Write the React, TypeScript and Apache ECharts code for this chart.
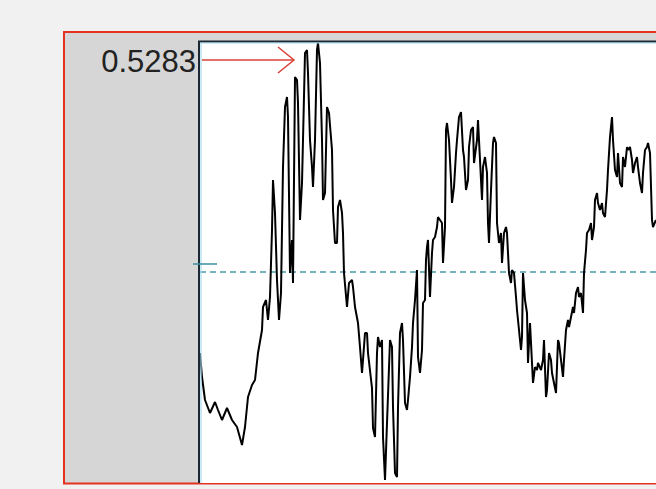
import React, { useEffect, useRef } from "react";
import * as echarts from "echarts";

// time offsets (ticks) and prices
const ticks = [
  0, 2, 5, 10, 15, 18, 22, 27, 32, 37, 42, 45, 48, 52, 55, 58, 62, 63, 66, 68, 70, 72, 73, 75, 77, 79, 81, 83, 85, 87, 88, 90, 92, 93, 95, 97, 98,
  100, 102, 105, 107, 108, 110, 112, 113, 115, 117, 118, 120, 122, 123, 125, 127, 129, 132, 133, 135, 137, 138, 140, 142, 143, 144, 147, 149,
  152, 153, 155, 158, 160, 162, 163, 165, 167, 168, 172, 173, 175, 177, 178, 180, 182, 183, 185, 187, 190, 192, 193, 195, 197, 198,
  200, 202, 203, 205, 207, 208, 210, 212, 213, 215, 217, 218, 220, 222, 223, 225, 226, 227, 228, 230, 232, 233, 235, 237, 238, 240, 242, 243, 245, 246, 247, 249,
  251, 252, 254, 256, 257, 259, 261, 263, 264, 266, 268, 269, 271, 273, 274, 277, 278, 280, 282, 283, 285, 287, 288, 289, 291, 293, 294, 296, 297, 299,
  301, 302, 304, 306, 307, 309, 311, 312, 314, 316, 317, 319, 321, 322, 323, 325, 327, 328, 330, 332, 333, 335, 337, 338, 341, 343, 344, 346, 347, 349,
  351, 352, 354, 356, 358, 359, 361, 363, 364, 366, 368, 369, 371, 373, 374, 376, 378, 379, 381, 383, 384, 386, 387, 389, 391, 392, 394, 395, 397, 398,
  400, 402, 403, 405, 407, 408, 410, 412, 413, 415, 417, 418, 420, 422, 423, 425, 427, 428, 430, 432, 433, 435, 437, 438, 440, 442, 443, 445, 447, 448,
  450, 452, 453, 456,
];

const prices = [
  0.499, 0.4966, 0.4943, 0.493, 0.4941, 0.4933, 0.4923, 0.4935, 0.4923, 0.4916, 0.4898, 0.4916, 0.4946, 0.4958, 0.4963, 0.499, 0.5013, 0.5036, 0.5043, 0.5023, 0.5046, 0.5113, 0.5163, 0.513, 0.5063, 0.5023, 0.505, 0.5176, 0.5236, 0.5246, 0.5226, 0.507, 0.5103, 0.506, 0.5266, 0.5263, 0.524,
  0.5123, 0.516, 0.529, 0.5293, 0.527, 0.5203, 0.5176, 0.5156, 0.5203, 0.5293, 0.53, 0.528, 0.5203, 0.5143, 0.515, 0.5236, 0.523, 0.5193, 0.5133, 0.51, 0.51, 0.5136, 0.5143, 0.513, 0.511, 0.507, 0.5036, 0.506,
  0.5063, 0.5056, 0.5036, 0.502, 0.4996, 0.497, 0.4983, 0.501, 0.501, 0.499, 0.4955, 0.4915, 0.4906, 0.499, 0.5006, 0.4996, 0.5003, 0.4906, 0.4863, 0.492, 0.5003, 0.4996, 0.4936, 0.487, 0.4866, 0.4936,
  0.501, 0.502, 0.5003, 0.494, 0.4933, 0.4943, 0.4966, 0.4996, 0.502, 0.5043, 0.5073, 0.4986, 0.497, 0.4993, 0.504, 0.5043, 0.5083, 0.5096, 0.5103, 0.5046, 0.509, 0.5103, 0.5106, 0.5116, 0.5126, 0.5123, 0.512, 0.508, 0.5116, 0.5213, 0.522, 0.5203,
  0.5163, 0.514, 0.5156, 0.519, 0.5203, 0.5226, 0.5231, 0.5193, 0.5186, 0.5153, 0.5163, 0.5196, 0.5213, 0.5216, 0.518, 0.5203, 0.5223, 0.5183, 0.5143, 0.5176, 0.5186, 0.517, 0.512, 0.51, 0.5153, 0.52, 0.5206, 0.52, 0.512, 0.51,
  0.511, 0.508, 0.511, 0.5116, 0.511, 0.507, 0.506, 0.5073, 0.507, 0.5046, 0.5033, 0.5013, 0.4993, 0.5006, 0.507, 0.5043, 0.503, 0.498, 0.502, 0.498, 0.496, 0.4976, 0.4973, 0.498, 0.4973, 0.4983, 0.5003, 0.4946, 0.4953, 0.499,
  0.4983, 0.497, 0.496, 0.495, 0.5003, 0.5, 0.4983, 0.4966, 0.4983, 0.5013, 0.5023, 0.5016, 0.5026, 0.5036, 0.503, 0.505, 0.5056, 0.5046, 0.505, 0.503, 0.507, 0.5093, 0.511, 0.5113, 0.512, 0.5103, 0.5116, 0.5143, 0.515, 0.514,
  0.5133, 0.514, 0.513, 0.5126, 0.5153, 0.5173, 0.5206, 0.5226, 0.5203, 0.5173, 0.5166, 0.519, 0.516, 0.5156, 0.5186, 0.5176, 0.5196, 0.5193, 0.5196, 0.5183, 0.517, 0.518, 0.5186, 0.5176, 0.516, 0.515, 0.517, 0.5193, 0.5196, 0.52,
  0.519, 0.5123, 0.5116, 0.5123,
];

const levelLabel = "0.5283";
const dashedLevel = 0.5071;
const axisMin = 0.486;
const axisMax = 0.53;
const tickStart = 0;
const tickEnd = 456;

export default function App() {
  const ref = useRef<HTMLDivElement>(null);
  useEffect(() => {
    if (!ref.current) return;
    const chart = echarts.init(ref.current, null, { renderer: "svg" });
    const data = ticks.map((t, i) => [t, prices[i]]);
    chart.setOption({
      animation: false,
      backgroundColor: "#f1f1f1",
      grid: {
        left: 200,
        right: 0,
        top: 43,
        bottom: 6,
        show: true,
        backgroundColor: "#ffffff",
        borderWidth: 0,
        z: 1,
      },
      xAxis: {
        type: "value",
        min: tickStart,
        max: tickEnd,
        show: false,
      },
      yAxis: {
        type: "value",
        min: axisMin,
        max: axisMax,
        show: false,
      },
      series: [
        {
          type: "line",
          data: [
            [tickStart, dashedLevel],
            [tickEnd, dashedLevel],
          ],
          showSymbol: false,
          symbol: "none",
          silent: true,
          z: 3,
          lineStyle: { color: "#4a9aa6", type: [6, 4], width: 1.5 },
        },
        {
          type: "line",
          data,
          showSymbol: false,
          symbol: "none",
          z: 5,
          lineStyle: { color: "#000000", width: 2 },
        },
      ],
      graphic: [
        {
          type: "rect",
          z: -10,
          shape: { x: 64, y: 32, width: 700, height: 451.5 },
          style: { fill: "#d6d6d6", stroke: "#e3321f", lineWidth: 2 },
        },
        {
          type: "line",
          z: 20,
          shape: { x1: 199, y1: 41, x2: 199, y2: 483 },
          style: { stroke: "#1b2733", lineWidth: 2 },
        },
        {
          type: "line",
          z: 20,
          shape: { x1: 201, y1: 43, x2: 201, y2: 483 },
          style: { stroke: "#a6dcef", lineWidth: 1.2 },
        },
        {
          type: "line",
          z: 20,
          shape: { x1: 198, y1: 41.5, x2: 700, y2: 41.5 },
          style: { stroke: "#1b2733", lineWidth: 2 },
        },
        {
          type: "line",
          z: 20,
          shape: { x1: 200, y1: 43, x2: 700, y2: 43 },
          style: { stroke: "#a6dcef", lineWidth: 1 },
        },
        {
          type: "line",
          z: 20,
          shape: { x1: 193, y1: 264, x2: 217, y2: 264 },
          style: { stroke: "#3c8ea0", lineWidth: 1.5 },
        },
        {
          type: "text",
          z: 20,
          x: 196,
          y: 61,
          style: {
            text: levelLabel,
            fill: "#222222",
            font: "31px 'Liberation Sans', Arial, sans-serif",
            align: "right",
            verticalAlign: "middle",
          },
        },
        {
          type: "line",
          z: 20,
          shape: { x1: 202, y1: 60, x2: 294, y2: 60 },
          style: { stroke: "#d9403a", lineWidth: 1.5 },
        },
        {
          type: "polyline",
          z: 20,
          shape: { points: [[278, 47], [294, 60], [278, 73]] },
          style: { stroke: "#d9403a", lineWidth: 1.5, fill: null },
        },
      ],
    });
    return () => chart.dispose();
  }, []);
  return (
    <div
      ref={ref}
      style={{ position: "absolute", left: 0, top: 0, width: 656, height: 489 }}
    />
  );
}
